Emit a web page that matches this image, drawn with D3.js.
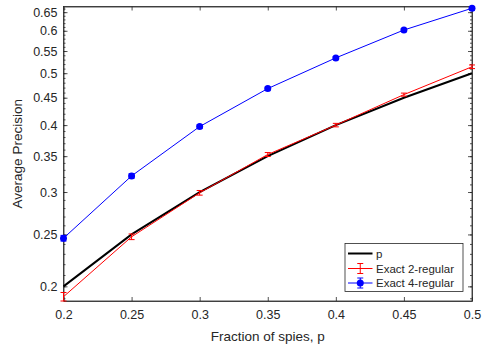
<!DOCTYPE html>
<html><head><meta charset="utf-8">
<script src="https://cdn.jsdelivr.net/npm/d3@7"></script>
<style>body{margin:0;background:#fff;} text{font-family:"Liberation Sans",Arial,sans-serif;fill:#262626;}</style>
</head><body><svg id="c" width="487" height="349"></svg>
<script>
const pValues = [0.2, 0.25, 0.3, 0.35, 0.4, 0.45, 0.5];
const baseline = [0.2, 0.25, 0.3, 0.35, 0.4, 0.45, 0.5];
const reg2 = [0.1913, 0.2475, 0.2990, 0.3525, 0.4000, 0.4560, 0.5140];
const reg2Err = [0.0035, 0.003, 0.003, 0.003, 0.003, 0.003, 0.004];
const reg4 = [0.2460, 0.3215, 0.3975, 0.4680, 0.5340, 0.6020, 0.6610];
const reg4Err = [0.003, 0.003, 0.003, 0.003, 0.003, 0.003, 0.005];
const xTicks = [0.2, 0.25, 0.3, 0.35, 0.4, 0.45, 0.5];
const yTicks = [0.2, 0.25, 0.3, 0.35, 0.4, 0.45, 0.5, 0.55, 0.6, 0.65];
const seriesNames = ["p", "Exact 2-regular", "Exact 4-regular"];

const svg = d3.select("#c");
const L = 63.5, R = 472, T = 6.5, B = 301;
const yMin = d3.min(reg2.map((v,i)=>v-reg2Err[i]));
const yMax = d3.max(reg4.map((v,i)=>v+reg4Err[i]));
const x = d3.scaleLinear().domain([0.2, 0.5]).range([L, R]);
const y = d3.scaleLog().domain([yMin, yMax]).range([B, T]);
const axisCol = "#262626";

// minor ticks
const minor = d3.range(19, 67).map(v => v/100).filter(v => v >= yMin && v <= yMax);

const g = svg.append("g");
// axes
const xb = g.append("g").attr("transform", `translate(0,${B})`)
  .call(d3.axisBottom(x).tickValues(xTicks).tickFormat(d3.format("")).tickSizeInner(-4).tickSizeOuter(0).tickPadding(9));
const xt = g.append("g").attr("transform", `translate(0,${T})`)
  .call(d3.axisTop(x).tickValues(xTicks).tickFormat("").tickSizeInner(-4).tickSizeOuter(0));
const yl = g.append("g").attr("transform", `translate(${L},0)`)
  .call(d3.axisLeft(y).tickValues(yTicks).tickFormat(d3.format("")).tickSizeInner(-4).tickSizeOuter(0).tickPadding(6));
const yr = g.append("g").attr("transform", `translate(${R},0)`)
  .call(d3.axisRight(y).tickValues(yTicks).tickFormat("").tickSizeInner(-4).tickSizeOuter(0));
const ylm = g.append("g").attr("transform", `translate(${L},0)`)
  .call(d3.axisLeft(y).tickValues(minor).tickFormat("").tickSizeInner(-2).tickSizeOuter(0));
const yrm = g.append("g").attr("transform", `translate(${R},0)`)
  .call(d3.axisRight(y).tickValues(minor).tickFormat("").tickSizeInner(-2).tickSizeOuter(0));
[xb, xt, yl, yr, ylm, yrm].forEach(a => {
  a.selectAll("path").attr("stroke", axisCol).attr("stroke-width", 0.8);
  a.selectAll("line").attr("stroke", axisCol).attr("stroke-width", 0.8);
  a.selectAll("text").attr("font-size", 12.5).style("fill", axisCol).attr("font-family", "Liberation Sans, Arial, sans-serif");
});
ylm.select("path").remove(); yrm.select("path").remove();

// box
g.append("rect").attr("x", L).attr("y", T).attr("width", R-L).attr("height", B-T)
  .attr("fill", "none").attr("stroke", axisCol).attr("stroke-width", 0.8);

// labels
svg.append("text").attr("x", (L+R)/2).attr("y", 341).attr("text-anchor", "middle")
  .attr("font-size", 13.5).text("Fraction of spies, p");
svg.append("text").attr("transform", `translate(22,${(T+B)/2}) rotate(-90)`).attr("text-anchor", "middle")
  .attr("font-size", 13.5).text("Average Precision");

const line = d3.line().x((d,i)=>x(pValues[i])).y(d=>y(d));
const plot = svg.append("g");

plot.append("path").datum(baseline).attr("d", line).attr("fill","none").attr("stroke","#000").attr("stroke-width",2);

function errSeries(vals, errs, col, dots) {
  plot.append("path").datum(vals).attr("d", line).attr("fill","none").attr("stroke",col).attr("stroke-width",1);
  const gg = plot.append("g");
  vals.forEach((v,i) => {
    const cx = x(pValues[i]), y1 = y(v-errs[i]), y2 = y(v+errs[i]);
    gg.append("line").attr("x1",cx).attr("x2",cx).attr("y1",y1).attr("y2",y2).attr("stroke",col).attr("stroke-width",1);
    [y1,y2].forEach(yy => gg.append("line").attr("x1",cx-3).attr("x2",cx+3).attr("y1",yy).attr("y2",yy).attr("stroke",col).attr("stroke-width",1));
    if (dots) gg.append("circle").attr("cx",cx).attr("cy",y(v)).attr("r",3.5).attr("fill",col);
  });
}
errSeries(reg2, reg2Err, "#ff0000", false);
errSeries(reg4, reg4Err, "#0000ff", true);

// legend
const lg = svg.append("g");
lg.append("rect").attr("x",345).attr("y",243.5).attr("width",118).attr("height",48)
  .attr("fill","#fff").attr("stroke",axisCol).attr("stroke-width",0.8);
const rows = [253.5, 268.5, 283];
const cols = ["#000","#ff0000","#0000ff"];
rows.forEach((ry,i) => {
  lg.append("line").attr("x1",348).attr("x2",372.5).attr("y1",ry).attr("y2",ry).attr("stroke",cols[i]).attr("stroke-width", i===0?2:1);
  if (i>0) {
    lg.append("line").attr("x1",360.25).attr("x2",360.25).attr("y1",ry-5).attr("y2",ry+5).attr("stroke",cols[i]);
    [ry-5, ry+5].forEach(yy => lg.append("line").attr("x1",357.25).attr("x2",363.25).attr("y1",yy).attr("y2",yy).attr("stroke",cols[i]));
  }
  if (i===2) lg.append("circle").attr("cx",360.25).attr("cy",ry).attr("r",3.5).attr("fill",cols[i]);
  lg.append("text").attr("x",376).attr("y",ry+4).attr("font-size",11.5).text(seriesNames[i]);
});
</script></body></html>
